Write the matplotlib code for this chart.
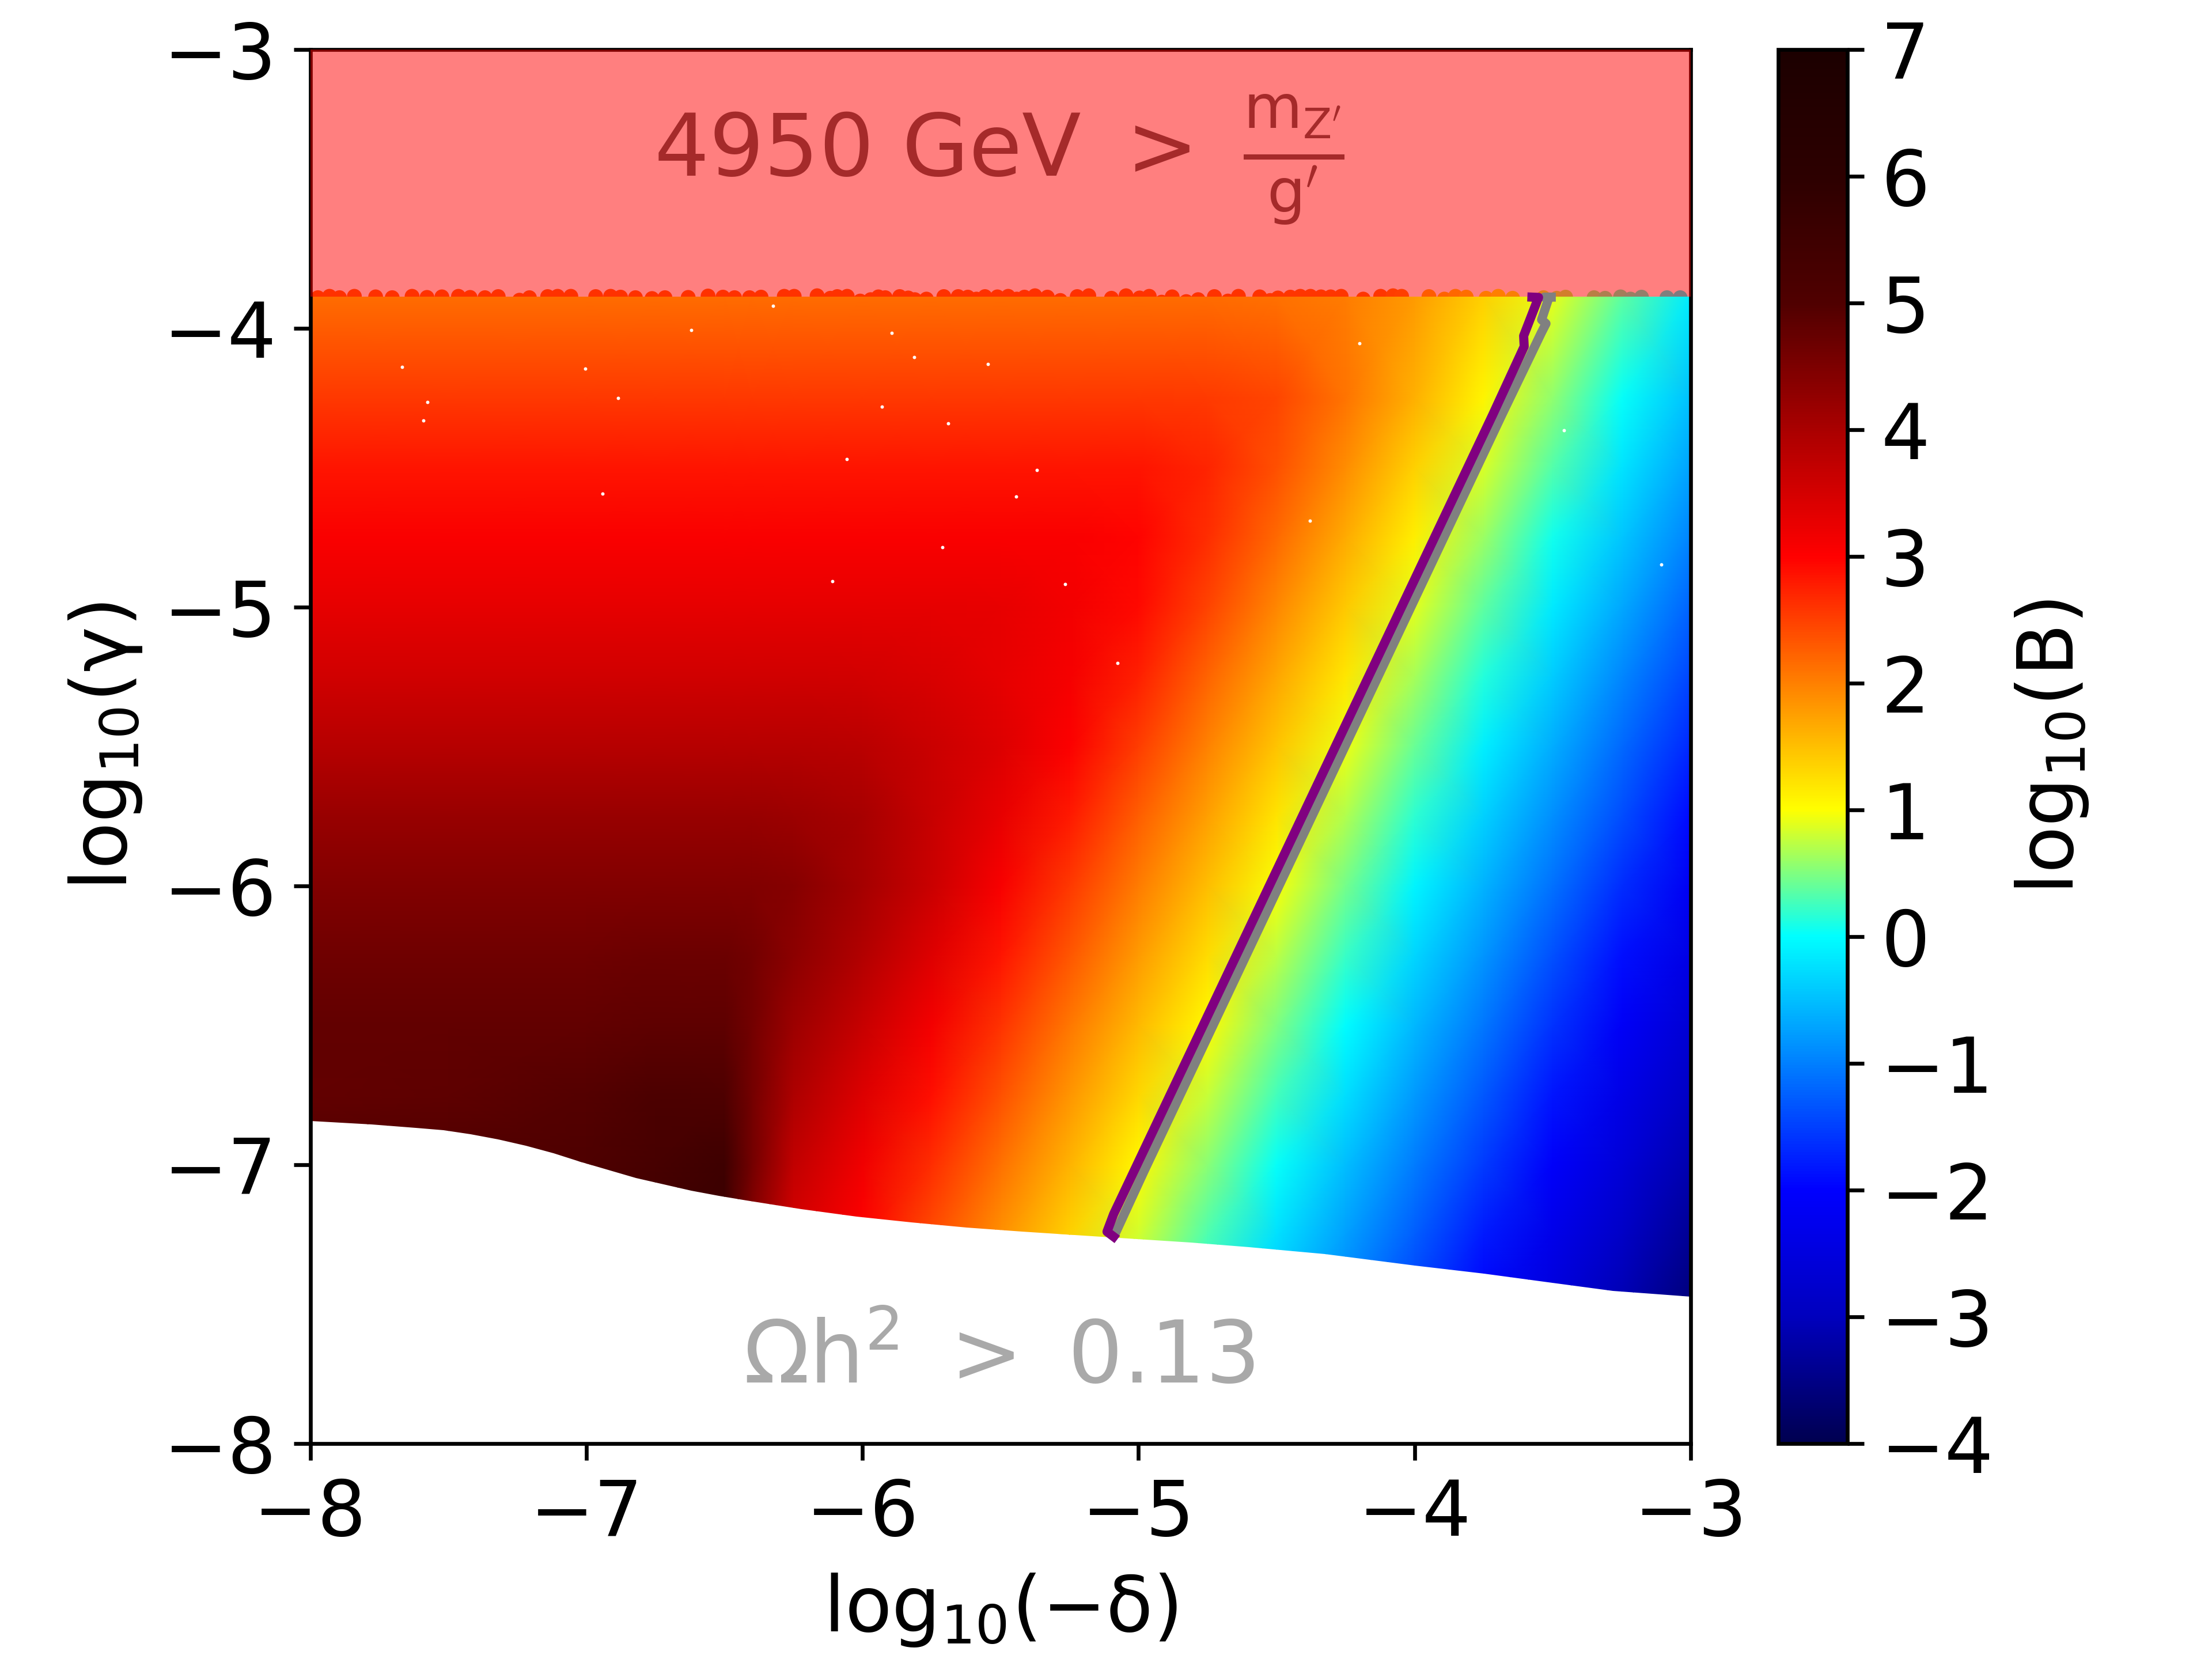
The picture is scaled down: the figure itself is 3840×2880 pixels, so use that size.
import numpy as np
import matplotlib
matplotlib.use("Agg")
import matplotlib.pyplot as plt
from matplotlib.colors import LinearSegmentedColormap, Normalize
from matplotlib.cm import ScalarMappable
from matplotlib.path import Path
from matplotlib.patches import PathPatch

# ---- data ----
x_nodes = [-8, -7.5, -7, -6.75, -6.5, -6.4, -6.25, -6, -5.75, -5.5, -5.25, -5, -4.75, -4.5, -4.25, -4, -3.75, -3.5, -3.25, -3]
y_nodes = [-3.886, -4.25, -4.5, -4.75, -5, -5.25, -5.5, -5.75, -6, -6.25, -6.5, -6.75, -7, -7.25, -7.5]
log_b = [
 [2.15,2.15,2.15,2.15,2.15,2.15,2.15,2.15,2.15,2.15,2.15,2.15,2.15,2.12,2.02,1.8,1.35,0.91,0.38,-0.14],
 [2.57,2.57,2.57,2.57,2.57,2.57,2.57,2.57,2.57,2.57,2.57,2.57,2.55,2.46,2.1,1.61,1.08,0.56,0.03,-0.49],
 [2.85,2.85,2.85,2.85,2.85,2.85,2.85,2.85,2.85,2.85,2.85,2.85,2.72,2.36,1.89,1.37,0.84,0.32,-0.21,-0.73],
 [3.05,3.05,3.05,3.05,3.05,3.05,3.05,3.05,3.05,3.05,3.05,2.98,2.66,2.18,1.66,1.13,0.61,0.08,-0.45,-0.97],
 [3.3,3.3,3.3,3.3,3.3,3.3,3.3,3.3,3.3,3.28,3.15,2.92,2.47,1.94,1.42,0.89,0.37,-0.16,-0.69,-1.21],
 [3.55,3.55,3.55,3.55,3.55,3.55,3.55,3.52,3.45,3.3,3.1,2.75,2.23,1.7,1.18,0.65,0.13,-0.4,-0.93,-1.45],
 [3.85,3.85,3.85,3.85,3.85,3.85,3.85,3.82,3.62,3.4,3.04,2.51,1.99,1.46,0.94,0.41,-0.12,-0.64,-1.17,-1.69],
 [4.2,4.2,4.2,4.2,4.2,4.2,4.15,4.02,3.65,3.28,2.8,2.27,1.75,1.22,0.7,0.17,-0.35,-0.88,-1.4,-1.93],
 [4.45,4.45,4.45,4.45,4.45,4.45,4.38,4.05,3.61,3.08,2.56,2.03,1.51,0.98,0.46,-0.07,-0.59,-1.12,-1.64,-2.17],
 [4.65,4.65,4.65,4.68,4.7,4.6,4.33,3.89,3.37,2.84,2.32,1.79,1.27,0.74,0.22,-0.31,-0.83,-1.36,-1.88,-2.41],
 [4.8,4.8,4.8,4.85,4.85,4.6,4.15,3.65,3.13,2.6,2.08,1.55,1.03,0.5,-0.02,-0.55,-1.07,-1.6,-2.12,-2.65],
 [4.8,4.85,4.95,5.1,5.05,4.6,3.95,3.41,2.89,2.36,1.84,1.31,0.79,0.26,-0.26,-0.79,-1.31,-1.84,-2.36,-2.89],
 [5.0,5.0,5.05,5.25,5.5,4.6,3.72,3.17,2.65,2.12,1.6,1.07,0.55,0.02,-0.5,-1.03,-1.55,-2.08,-2.6,-3.13],
 [5.1,5.1,5.2,5.4,5.6,4.4,3.48,3.0,2.41,1.88,1.36,0.83,0.31,-0.22,-0.74,-1.27,-1.79,-2.32,-2.84,-3.37],
 [5.1,5.1,5.2,5.4,5.6,4.3,3.3,2.8,2.2,1.65,1.1,0.6,0.07,-0.46,-0.98,-1.51,-2.03,-2.56,-3.08,-3.61],
]
lower_x = [-8, -7.778, -7.618, -7.518, -7.419, -7.319, -7.219, -7.119, -7.02, -6.92, -6.82, -6.72, -6.62, -6.52, -6.42, -6.221, -6.021, -5.822, -5.622, -5.422, -5.103, -4.81, -4.6, -4.325, -4, -3.75, -3.5, -3.282, -3.14, -3]
lower_y = [-6.843, -6.856, -6.868, -6.876, -6.891, -6.91, -6.932, -6.958, -6.989, -7.019, -7.047, -7.071, -7.093, -7.112, -7.128, -7.16, -7.185, -7.207, -7.226, -7.24, -7.261, -7.279, -7.295, -7.32, -7.361, -7.39, -7.424, -7.452, -7.463, -7.473]

gray_x = [-3.505, -3.53, -3.516, -3.54, -3.524, -3.54, -3.684, -4.98, -5.08]
gray_y = [-3.888, -3.888, -3.897, -3.969, -3.983, -4.014, -4.31, -7.023, -7.238]
purple_x = [-3.575, -3.551, -3.605, -3.603, -3.717, -5.09, -5.114, -5.09]
purple_y = [-3.888, -3.889, -4.027, -4.065, -4.31, -7.177, -7.24, -7.258]

bump_x = [-7.972,-7.93,-7.894,-7.84,-7.763,-7.703,-7.631,-7.577,-7.523,-7.463,-7.421,-7.367,-7.319,-7.242,-7.206,-7.14,-7.104,-7.056,-6.966,-6.912,-6.876,-6.822,-6.762,-6.715,-6.631,-6.559,-6.505,-6.463,-6.409,-6.367,-6.283,-6.247,
          -6.164,-6.116,-6.091,-6.055,-6.008,-5.97,-5.942,-5.917,-5.865,-5.834,-5.81,-5.768,-5.705,-5.653,-5.618,-5.587,-5.556,-5.511,-5.472,-5.441,-5.413,-5.375,-5.33,-5.283,-5.222,-5.18,
          -5.098,-5.045,-4.996,-4.961,-4.916,-4.878,-4.827,-4.784,-4.725,-4.676,-4.638,-4.561,-4.523,-4.495,-4.45,-4.414,-4.377,-4.339,-4.304,-4.266,-4.186,-4.123,-4.078,-4.047,
          -3.948,-3.892,-3.852,-3.813,-3.741,-3.697,-3.645,-3.533,-3.485,-3.453,-3.35,-3.31,-3.254,-3.218,-3.178,-3.086,-3.038]
bump_y = [-3.89,-3.885,-3.89,-3.885,-3.887,-3.89,-3.885,-3.889,-3.887,-3.885,-3.889,-3.89,-3.886,-3.899,-3.89,-3.886,-3.885,-3.885,-3.886,-3.885,-3.888,-3.89,-3.893,-3.89,-3.889,-3.884,-3.888,-3.89,-3.89,-3.888,-3.885,-3.885,
          -3.883,-3.892,-3.886,-3.885,-3.902,-3.897,-3.887,-3.89,-3.886,-3.891,-3.897,-3.895,-3.886,-3.886,-3.888,-3.895,-3.886,-3.887,-3.885,-3.895,-3.888,-3.883,-3.888,-3.9,-3.886,-3.883,
          -3.892,-3.883,-3.891,-3.885,-3.906,-3.887,-3.904,-3.897,-3.886,-3.902,-3.885,-3.887,-3.9,-3.891,-3.888,-3.885,-3.885,-3.887,-3.887,-3.885,-3.895,-3.885,-3.883,-3.885,
          -3.886,-3.895,-3.885,-3.888,-3.892,-3.885,-3.892,-3.89,-3.892,-3.888,-3.89,-3.892,-3.887,-3.895,-3.888,-3.89,-3.89]
bump_v = [2.22]*32 + [2.22]*26 + [2.2]*12 + [2.15]*10 + [2.05, 2.0] + [1.55,1.45,1.38,1.28,1.1,1.02,0.95,0.78,0.7,0.65,0.45,0.38,0.28,0.22,0.15,0.0,-0.08]

speck_x = [-6.323,-6.62,-5.894,-5.812,-5.546,-7.003,-7.668,-6.885,-5.93,-5.69,-7.576,-7.59,-6.057,-5.367,-5.444,-6.942,-4.38,-5.71,-6.108,-5.265,-5.076,-4.2,-3.107,-3.46]
speck_y = [-3.92,-4.007,-4.017,-4.103,-4.129,-4.144,-4.139,-4.25,-4.28,-4.341,-4.265,-4.331,-4.468,-4.508,-4.604,-4.594,-4.69,-4.786,-4.908,-4.918,-5.2,-4.053,-4.847,-4.366]

axis_ticks = [-8, -7, -6, -5, -4, -3]
cbar_ticks = [-4, -3, -2, -1, 0, 1, 2, 3, 4, 5, 6, 7]
cmap_levels = [-4, -3, -2, -1, 0, 1, 2, 3, 4, 5, 6, 7]
cmap_colors = ['#000050', '#0000be', '#0000ff', '#0080ff', '#00ffff', '#ffff00', '#ff8000', '#ff0000', '#aa0000', '#500000', '#2d0000', '#1c0000']
# ------------------------------------

vmin, vmax = -4, 7
norm = Normalize(vmin, vmax)
cmap = LinearSegmentedColormap.from_list(
    'field', [((v - vmin) / (vmax - vmin), c) for v, c in zip(cmap_levels, cmap_colors)], N=512)

fig = plt.figure(figsize=(6.4, 4.8), dpi=600)
ax = fig.add_axes([538.5 / 3840, 1 - 2506 / 2880, (2935 - 538.5) / 3840, (2506 - 86) / 2880])
cax = fig.add_axes([3087 / 3840, 1 - 2506 / 2880, 120 / 3840, (2506 - 86) / 2880])

X, Y = np.meshgrid(x_nodes, y_nodes)
ax.scatter(bump_x, bump_y, c=bump_v, cmap=cmap, norm=norm, s=9.5, linewidths=0, zorder=0.5)
mesh = ax.pcolormesh(X, Y, np.array(log_b), shading='gouraud', cmap=cmap, norm=norm, zorder=1, rasterized=True)
verts = list(zip(lower_x, lower_y)) + [(-3, y_nodes[0]), (-8, y_nodes[0]), (lower_x[0], lower_y[0])]
clip = PathPatch(Path(verts), transform=ax.transData, fc='none', ec='none')
ax.add_patch(clip)
mesh.set_clip_path(clip)

ax.scatter(speck_x, speck_y, c='white', s=0.5, linewidths=0, zorder=2)

ax.fill_between([-8, -3], [y_nodes[0]] * 2, [-3, -3], color='red', alpha=0.5, linewidth=0, zorder=3)

ax.plot(gray_x, gray_y, color='gray', lw=1.9, zorder=4)
ax.plot(purple_x, purple_y, color='purple', lw=1.9, zorder=5)

ax.text(-6.755, -3.455, r"$\mathrm{4950\ GeV\ >\ \frac{m_{Z'}}{g'}}$", color='brown', fontsize=18, ha='left', va='baseline', zorder=6)
ax.text(-6.433, -7.783, r"$\mathrm{\Omega h^2\ >\ 0.13}$", color='darkgray', fontsize=18, ha='left', va='baseline', zorder=6)

ax.set_xlim(-8, -3)
ax.set_ylim(-8, -3)
ax.set_xticks(axis_ticks)
ax.set_yticks(axis_ticks)
ax.tick_params(labelsize=16)
ax.set_xlabel(r"$\mathrm{log_{10}(-\delta)}$", fontsize=16)
ax.set_ylabel(r"$\mathrm{log_{10}(\gamma)}$", fontsize=16)

cb = fig.colorbar(ScalarMappable(norm=norm, cmap=cmap), cax=cax, ticks=cbar_ticks)
cb.ax.tick_params(labelsize=16)
cb.set_label(r"$\mathrm{log_{10}(B)}$", fontsize=16)

fig.savefig('out.png', dpi=600)
